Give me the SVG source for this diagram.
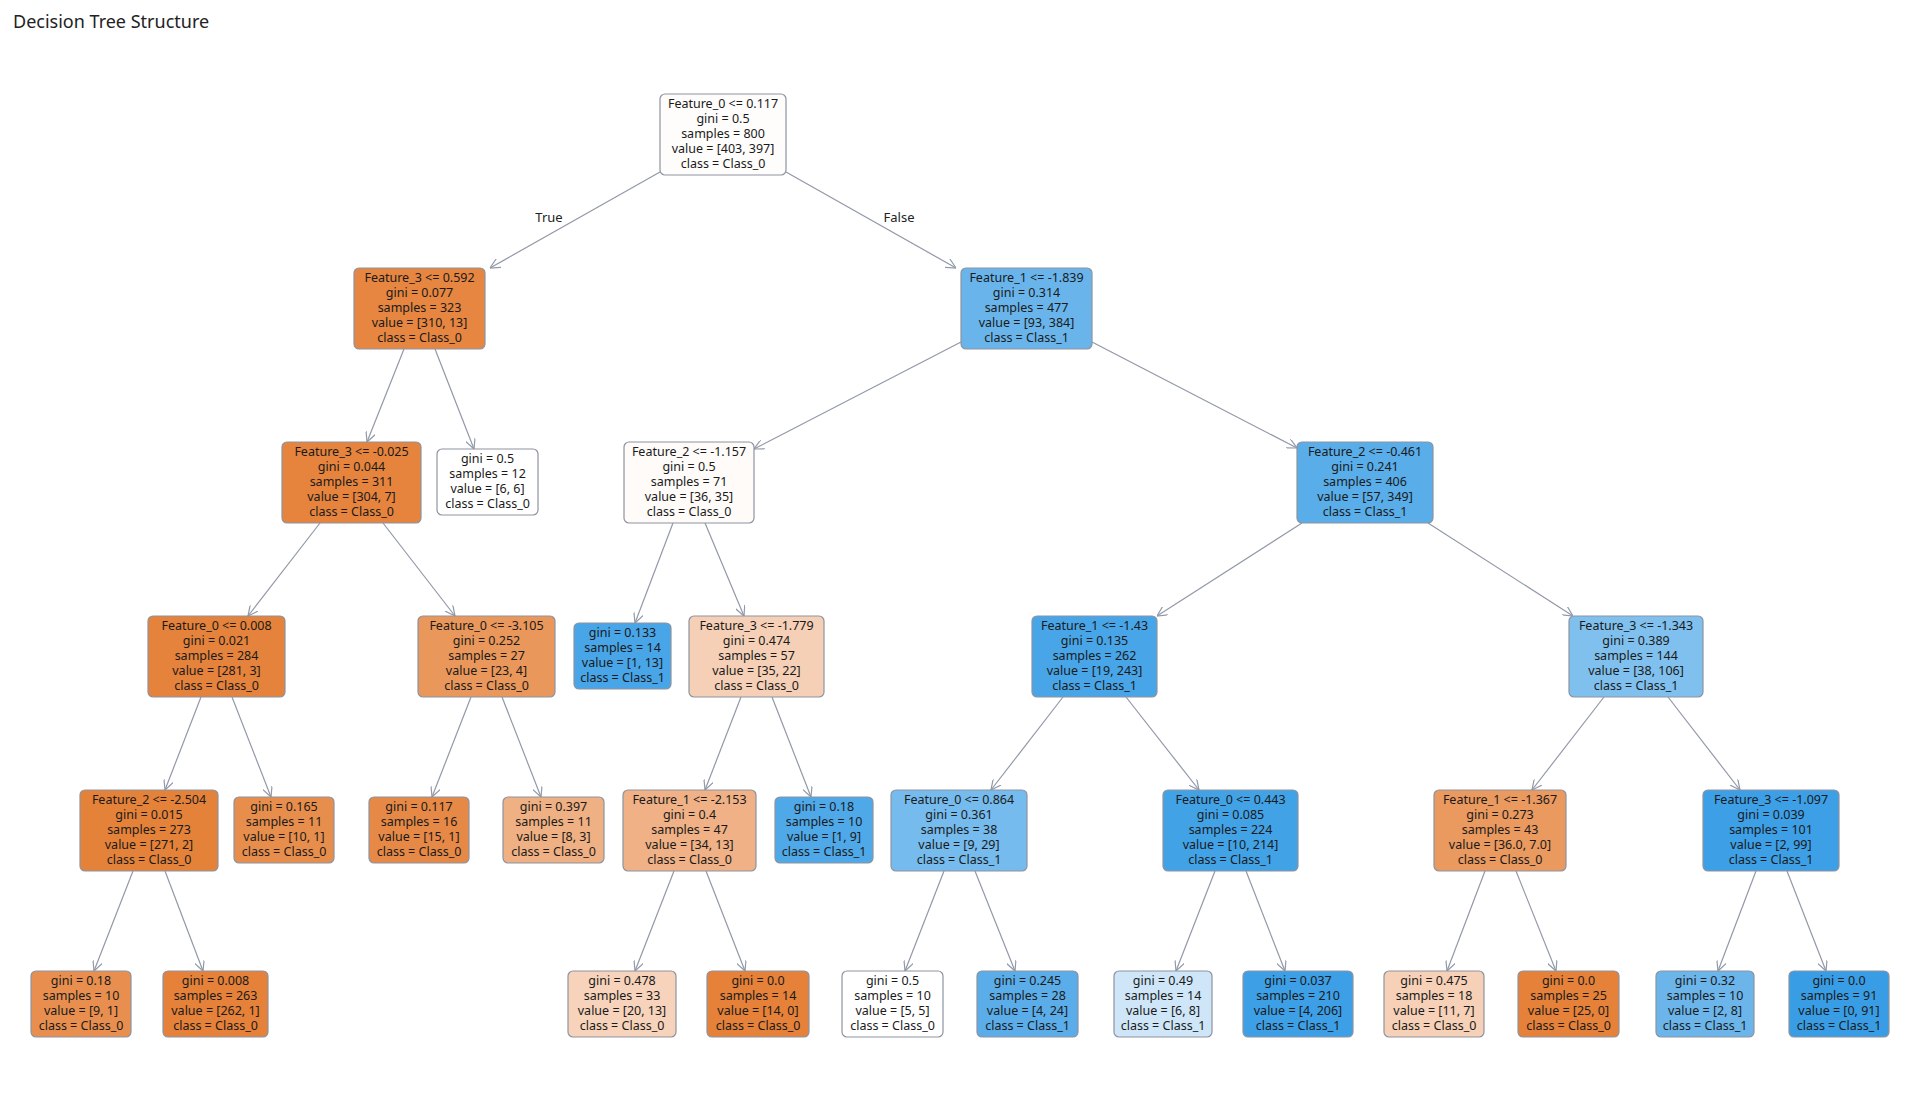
<svg xmlns="http://www.w3.org/2000/svg" width="1920" height="1104" viewBox="0 0 1920 1104">
<style>
.n rect{stroke:#8d93a0;stroke-width:1.2}
.n text{font-family:"Noto Sans","DejaVu Sans",sans-serif;font-size:12.5px;fill:#1a1a1a;text-anchor:middle}
#edges line{stroke:#9199a7;stroke-width:1.2;marker-end:url(#ah)}
.lbl{font-family:"Noto Sans","DejaVu Sans",sans-serif;font-size:13px;fill:#222;text-anchor:middle}
</style>
<defs><marker id="ah" viewBox="0 0 10 10" refX="10" refY="5" markerWidth="10" markerHeight="10" orient="auto" markerUnits="userSpaceOnUse"><path d="M0,0 L10,5 L0,10" fill="none" stroke="#9199a7" stroke-width="1.2"/></marker></defs>
<rect width="1920" height="1104" fill="#fff"/>
<text x="13" y="28" font-family="Noto Sans,DejaVu Sans,sans-serif" font-size="18" fill="#222">Decision Tree Structure</text>
<g id="edges">
<line x1="660" y1="172" x2="490" y2="268"/>
<line x1="786" y1="172" x2="956" y2="268"/>
<line x1="404" y1="349" x2="367" y2="442"/>
<line x1="435" y1="349" x2="474" y2="449"/>
<line x1="961" y1="342" x2="754" y2="449"/>
<line x1="1092" y1="342" x2="1297" y2="448"/>
<line x1="320" y1="523" x2="248" y2="616"/>
<line x1="383" y1="523" x2="455" y2="616"/>
<line x1="673" y1="523" x2="635" y2="623"/>
<line x1="705" y1="523" x2="744" y2="616"/>
<line x1="1302" y1="523" x2="1157" y2="616"/>
<line x1="1428" y1="523" x2="1573" y2="616"/>
<line x1="201" y1="697" x2="165" y2="790"/>
<line x1="232" y1="697" x2="271" y2="797"/>
<line x1="471" y1="697" x2="432" y2="797"/>
<line x1="502" y1="697" x2="541" y2="797"/>
<line x1="741" y1="697" x2="705" y2="790"/>
<line x1="772" y1="697" x2="811" y2="797"/>
<line x1="1063" y1="697" x2="991" y2="790"/>
<line x1="1126" y1="697" x2="1199" y2="790"/>
<line x1="1604" y1="697" x2="1532" y2="790"/>
<line x1="1668" y1="697" x2="1740" y2="790"/>
<line x1="133" y1="871" x2="94" y2="971"/>
<line x1="165" y1="871" x2="203" y2="971"/>
<line x1="674" y1="871" x2="635" y2="971"/>
<line x1="706" y1="871" x2="745" y2="971"/>
<line x1="944" y1="871" x2="905" y2="971"/>
<line x1="975" y1="871" x2="1015" y2="971"/>
<line x1="1215" y1="871" x2="1176" y2="971"/>
<line x1="1246" y1="871" x2="1285" y2="971"/>
<line x1="1485" y1="871" x2="1447" y2="971"/>
<line x1="1516" y1="871" x2="1556" y2="971"/>
<line x1="1756" y1="871" x2="1718" y2="971"/>
<line x1="1787" y1="871" x2="1826" y2="971"/>
</g>
<text class="lbl" x="549" y="222">True</text>
<text class="lbl" x="899" y="222">False</text>

<g id="n0" class="n"><rect x="660" y="94" width="126" height="81" rx="5" fill="#fffdfc"/><text x="723" y="108">Feature_0 &lt;= 0.117</text><text x="723" y="123">gini = 0.5</text><text x="723" y="138">samples = 800</text><text x="723" y="153">value = [403, 397]</text><text x="723" y="168">class = Class_0</text></g>
<g id="n1" class="n"><rect x="354" y="268" width="131" height="81" rx="5" fill="#e68641"/><text x="419.5" y="282">Feature_3 &lt;= 0.592</text><text x="419.5" y="297">gini = 0.077</text><text x="419.5" y="312">samples = 323</text><text x="419.5" y="327">value = [310, 13]</text><text x="419.5" y="342">class = Class_0</text></g>
<g id="n2" class="n"><rect x="961" y="268" width="131" height="81" rx="5" fill="#69b5eb"/><text x="1026.5" y="282">Feature_1 &lt;= -1.839</text><text x="1026.5" y="297">gini = 0.314</text><text x="1026.5" y="312">samples = 477</text><text x="1026.5" y="327">value = [93, 384]</text><text x="1026.5" y="342">class = Class_1</text></g>
<g id="n3" class="n"><rect x="282" y="442" width="139" height="81" rx="5" fill="#e6843e"/><text x="351.5" y="456">Feature_3 &lt;= -0.025</text><text x="351.5" y="471">gini = 0.044</text><text x="351.5" y="486">samples = 311</text><text x="351.5" y="501">value = [304, 7]</text><text x="351.5" y="516">class = Class_0</text></g>
<g id="n4" class="n"><rect x="437" y="449" width="101" height="66" rx="5" fill="#ffffff"/><text x="487.5" y="463">gini = 0.5</text><text x="487.5" y="478">samples = 12</text><text x="487.5" y="493">value = [6, 6]</text><text x="487.5" y="508">class = Class_0</text></g>
<g id="n5" class="n"><rect x="624" y="442" width="130" height="81" rx="5" fill="#fefbf9"/><text x="689" y="456">Feature_2 &lt;= -1.157</text><text x="689" y="471">gini = 0.5</text><text x="689" y="486">samples = 71</text><text x="689" y="501">value = [36, 35]</text><text x="689" y="516">class = Class_0</text></g>
<g id="n6" class="n"><rect x="1297" y="442" width="136" height="81" rx="5" fill="#59ade9"/><text x="1365" y="456">Feature_2 &lt;= -0.461</text><text x="1365" y="471">gini = 0.241</text><text x="1365" y="486">samples = 406</text><text x="1365" y="501">value = [57, 349]</text><text x="1365" y="516">class = Class_1</text></g>

<g id="n7" class="n"><rect x="148" y="616" width="137" height="81" rx="5" fill="#e5823b"/><text x="216.5" y="630">Feature_0 &lt;= 0.008</text><text x="216.5" y="645">gini = 0.021</text><text x="216.5" y="660">samples = 284</text><text x="216.5" y="675">value = [281, 3]</text><text x="216.5" y="690">class = Class_0</text></g>
<g id="n8" class="n"><rect x="418" y="616" width="137" height="81" rx="5" fill="#ea975b"/><text x="486.5" y="630">Feature_0 &lt;= -3.105</text><text x="486.5" y="645">gini = 0.252</text><text x="486.5" y="660">samples = 27</text><text x="486.5" y="675">value = [23, 4]</text><text x="486.5" y="690">class = Class_0</text></g>
<g id="n9" class="n"><rect x="574" y="623" width="97" height="66" rx="5" fill="#48a5e7"/><text x="622.5" y="637">gini = 0.133</text><text x="622.5" y="652">samples = 14</text><text x="622.5" y="667">value = [1, 13]</text><text x="622.5" y="682">class = Class_1</text></g>
<g id="n10" class="n"><rect x="689" y="616" width="135" height="81" rx="5" fill="#f5d0b6"/><text x="756.5" y="630">Feature_3 &lt;= -1.779</text><text x="756.5" y="645">gini = 0.474</text><text x="756.5" y="660">samples = 57</text><text x="756.5" y="675">value = [35, 22]</text><text x="756.5" y="690">class = Class_0</text></g>
<g id="n11" class="n"><rect x="1032" y="616" width="125" height="81" rx="5" fill="#48a5e7"/><text x="1094.5" y="630">Feature_1 &lt;= -1.43</text><text x="1094.5" y="645">gini = 0.135</text><text x="1094.5" y="660">samples = 262</text><text x="1094.5" y="675">value = [19, 243]</text><text x="1094.5" y="690">class = Class_1</text></g>
<g id="n12" class="n"><rect x="1569" y="616" width="134" height="81" rx="5" fill="#80c0ee"/><text x="1636" y="630">Feature_3 &lt;= -1.343</text><text x="1636" y="645">gini = 0.389</text><text x="1636" y="660">samples = 144</text><text x="1636" y="675">value = [38, 106]</text><text x="1636" y="690">class = Class_1</text></g>

<g id="n13" class="n"><rect x="80" y="790" width="138" height="81" rx="5" fill="#e5823a"/><text x="149" y="804">Feature_2 &lt;= -2.504</text><text x="149" y="819">gini = 0.015</text><text x="149" y="834">samples = 273</text><text x="149" y="849">value = [271, 2]</text><text x="149" y="864">class = Class_0</text></g>
<g id="n14" class="n"><rect x="234" y="797" width="100" height="66" rx="5" fill="#e88e4d"/><text x="284" y="811">gini = 0.165</text><text x="284" y="826">samples = 11</text><text x="284" y="841">value = [10, 1]</text><text x="284" y="856">class = Class_0</text></g>
<g id="n15" class="n"><rect x="369" y="797" width="100" height="66" rx="5" fill="#e78946"/><text x="419" y="811">gini = 0.117</text><text x="419" y="826">samples = 16</text><text x="419" y="841">value = [15, 1]</text><text x="419" y="856">class = Class_0</text></g>
<g id="n16" class="n"><rect x="503" y="797" width="101" height="66" rx="5" fill="#efb083"/><text x="553.5" y="811">gini = 0.397</text><text x="553.5" y="826">samples = 11</text><text x="553.5" y="841">value = [8, 3]</text><text x="553.5" y="856">class = Class_0</text></g>
<g id="n17" class="n"><rect x="623" y="790" width="133" height="81" rx="5" fill="#efb185"/><text x="689.5" y="804">Feature_1 &lt;= -2.153</text><text x="689.5" y="819">gini = 0.4</text><text x="689.5" y="834">samples = 47</text><text x="689.5" y="849">value = [34, 13]</text><text x="689.5" y="864">class = Class_0</text></g>
<g id="n18" class="n"><rect x="775" y="797" width="98" height="66" rx="5" fill="#4fa8e8"/><text x="824" y="811">gini = 0.18</text><text x="824" y="826">samples = 10</text><text x="824" y="841">value = [1, 9]</text><text x="824" y="856">class = Class_1</text></g>
<g id="n19" class="n"><rect x="891" y="790" width="136" height="81" rx="5" fill="#76bbed"/><text x="959" y="804">Feature_0 &lt;= 0.864</text><text x="959" y="819">gini = 0.361</text><text x="959" y="834">samples = 38</text><text x="959" y="849">value = [9, 29]</text><text x="959" y="864">class = Class_1</text></g>
<g id="n20" class="n"><rect x="1163" y="790" width="135" height="81" rx="5" fill="#42a2e6"/><text x="1230.5" y="804">Feature_0 &lt;= 0.443</text><text x="1230.5" y="819">gini = 0.085</text><text x="1230.5" y="834">samples = 224</text><text x="1230.5" y="849">value = [10, 214]</text><text x="1230.5" y="864">class = Class_1</text></g>
<g id="n21" class="n"><rect x="1434" y="790" width="132" height="81" rx="5" fill="#ea995f"/><text x="1500" y="804">Feature_1 &lt;= -1.367</text><text x="1500" y="819">gini = 0.273</text><text x="1500" y="834">samples = 43</text><text x="1500" y="849">value = [36.0, 7.0]</text><text x="1500" y="864">class = Class_0</text></g>
<g id="n22" class="n"><rect x="1703" y="790" width="136" height="81" rx="5" fill="#3d9fe6"/><text x="1771" y="804">Feature_3 &lt;= -1.097</text><text x="1771" y="819">gini = 0.039</text><text x="1771" y="834">samples = 101</text><text x="1771" y="849">value = [2, 99]</text><text x="1771" y="864">class = Class_1</text></g>

<g id="n23" class="n"><rect x="31" y="971" width="100" height="66" rx="5" fill="#e88f4f"/><text x="81" y="985">gini = 0.18</text><text x="81" y="1000">samples = 10</text><text x="81" y="1015">value = [9, 1]</text><text x="81" y="1030">class = Class_0</text></g>
<g id="n24" class="n"><rect x="163" y="971" width="105" height="66" rx="5" fill="#e58139"/><text x="215.5" y="985">gini = 0.008</text><text x="215.5" y="1000">samples = 263</text><text x="215.5" y="1015">value = [262, 1]</text><text x="215.5" y="1030">class = Class_0</text></g>
<g id="n25" class="n"><rect x="568" y="971" width="108" height="66" rx="5" fill="#f6d3ba"/><text x="622" y="985">gini = 0.478</text><text x="622" y="1000">samples = 33</text><text x="622" y="1015">value = [20, 13]</text><text x="622" y="1030">class = Class_0</text></g>
<g id="n26" class="n"><rect x="707" y="971" width="102" height="66" rx="5" fill="#e58139"/><text x="758" y="985">gini = 0.0</text><text x="758" y="1000">samples = 14</text><text x="758" y="1015">value = [14, 0]</text><text x="758" y="1030">class = Class_0</text></g>
<g id="n27" class="n"><rect x="842" y="971" width="101" height="66" rx="5" fill="#ffffff"/><text x="892.5" y="985">gini = 0.5</text><text x="892.5" y="1000">samples = 10</text><text x="892.5" y="1015">value = [5, 5]</text><text x="892.5" y="1030">class = Class_0</text></g>
<g id="n28" class="n"><rect x="977" y="971" width="101" height="66" rx="5" fill="#5aade9"/><text x="1027.5" y="985">gini = 0.245</text><text x="1027.5" y="1000">samples = 28</text><text x="1027.5" y="1015">value = [4, 24]</text><text x="1027.5" y="1030">class = Class_1</text></g>
<g id="n29" class="n"><rect x="1114" y="971" width="98" height="66" rx="5" fill="#cee6f8"/><text x="1163" y="985">gini = 0.49</text><text x="1163" y="1000">samples = 14</text><text x="1163" y="1015">value = [6, 8]</text><text x="1163" y="1030">class = Class_1</text></g>
<g id="n30" class="n"><rect x="1243" y="971" width="110" height="66" rx="5" fill="#3d9fe6"/><text x="1298" y="985">gini = 0.037</text><text x="1298" y="1000">samples = 210</text><text x="1298" y="1015">value = [4, 206]</text><text x="1298" y="1030">class = Class_1</text></g>
<g id="n31" class="n"><rect x="1384" y="971" width="100" height="66" rx="5" fill="#f6d1b7"/><text x="1434" y="985">gini = 0.475</text><text x="1434" y="1000">samples = 18</text><text x="1434" y="1015">value = [11, 7]</text><text x="1434" y="1030">class = Class_0</text></g>
<g id="n32" class="n"><rect x="1518" y="971" width="101" height="66" rx="5" fill="#e58139"/><text x="1568.5" y="985">gini = 0.0</text><text x="1568.5" y="1000">samples = 25</text><text x="1568.5" y="1015">value = [25, 0]</text><text x="1568.5" y="1030">class = Class_0</text></g>
<g id="n33" class="n"><rect x="1656" y="971" width="98" height="66" rx="5" fill="#6bb5eb"/><text x="1705" y="985">gini = 0.32</text><text x="1705" y="1000">samples = 10</text><text x="1705" y="1015">value = [2, 8]</text><text x="1705" y="1030">class = Class_1</text></g>
<g id="n34" class="n"><rect x="1789" y="971" width="100" height="66" rx="5" fill="#399de5"/><text x="1839" y="985">gini = 0.0</text><text x="1839" y="1000">samples = 91</text><text x="1839" y="1015">value = [0, 91]</text><text x="1839" y="1030">class = Class_1</text></g>
</svg>
